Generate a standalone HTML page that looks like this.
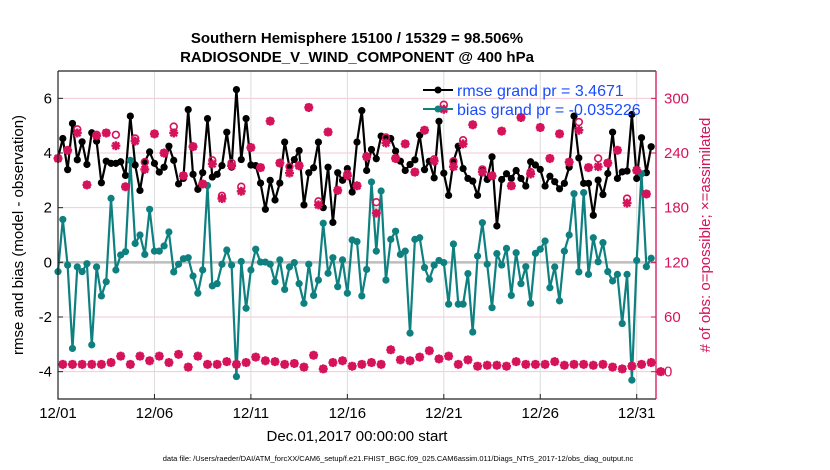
<!DOCTYPE html>
<html><head><meta charset="utf-8"><style>
html,body{margin:0;padding:0;background:#fff;}
svg{display:block;font-family:"Liberation Sans",Arial,sans-serif;}
</style></head><body>
<svg id="chart" width="830" height="470" viewBox="0 0 830 470" xmlns="http://www.w3.org/2000/svg">
<text x="357" y="43" text-anchor="middle" font-size="15" font-weight="bold">Southern Hemisphere 15100 / 15329 = 98.506%</text>
<text x="357" y="62" text-anchor="middle" font-size="15" font-weight="bold">RADIOSONDE_V_WIND_COMPONENT @ 400 hPa</text>
<g id="grid"></g>
<g id="series"></g>
<g id="axes"></g>
<text transform="translate(23,235) rotate(-90)" text-anchor="middle" font-size="15">rmse and bias (model - observation)</text>
<text transform="translate(710,235) rotate(-90)" text-anchor="middle" font-size="15" fill="#d6135a"># of obs: o=possible; ×=assimilated</text>
<text x="357" y="441" text-anchor="middle" font-size="15">Dec.01,2017 00:00:00 start</text>
<text x="398" y="461" text-anchor="middle" font-size="7.5">data file: /Users/raeder/DAI/ATM_forcXX/CAM6_setup/f.e21.FHIST_BGC.f09_025.CAM6assim.011/Diags_NTrS_2017-12/obs_diag_output.nc</text>
<g>
<line x1="423" y1="90" x2="453" y2="90" stroke="#000" stroke-width="2"/><circle cx="438" cy="90" r="3.5" fill="#000"/>
<text x="457" y="96" font-size="16" fill="#1a4cff">rmse grand pr = 3.4671</text>
<line x1="423" y1="109" x2="453" y2="109" stroke="#0f8080" stroke-width="2"/><circle cx="438" cy="109" r="3.5" fill="#0f8080"/>
<text x="457" y="115" font-size="16" fill="#1a4cff">bias grand pr = -0.035226</text>
</g>
</svg>
<script>
const rmse=[3.82,4.53,3.39,5.08,3.75,4.41,3.58,4.74,4.43,2.91,3.70,3.62,3.62,3.68,3.18,5.35,3.56,2.63,3.68,4.04,3.62,3.30,3.48,4.25,3.73,2.87,3.07,5.59,3.22,2.67,3.28,5.26,3.12,3.22,3.54,4.76,3.48,6.32,3.76,5.26,3.56,3.54,2.90,1.94,3.00,2.28,2.90,4.40,3.48,3.76,4.09,2.10,3.28,3.46,4.40,2.00,3.48,1.46,3.28,3.00,3.43,2.57,4.40,5.55,3.36,4.13,3.79,4.62,4.53,4.53,4.07,3.70,3.36,3.58,3.75,4.65,3.39,3.70,3.09,5.16,3.26,2.45,3.70,4.25,3.43,3.07,2.97,2.45,3.36,3.03,3.86,1.33,3.03,3.24,3.07,3.36,3.07,2.79,3.68,3.56,3.40,2.79,3.15,2.95,2.69,2.89,3.48,5.35,3.82,2.89,2.89,1.72,3.01,2.48,3.25,4.76,3.07,3.31,3.34,5.41,3.07,4.56,3.28,4.23];
const bias=[-0.34,1.57,-0.10,-3.15,-0.17,-0.34,-0.05,-3.02,-0.17,-1.23,-0.71,2.34,-0.28,0.27,0.39,3.73,0.69,1.00,0.29,1.94,0.41,0.41,0.60,1.11,-0.35,-0.07,0.13,0.17,-0.50,-1.13,-0.28,2.81,-0.86,-0.78,-0.07,0.45,-0.10,-4.18,0.03,-1.68,-0.28,0.48,0.01,0.01,-0.07,-0.71,0.09,-0.99,-0.17,-0.01,-0.78,-1.50,-0.07,-1.21,-0.65,1.43,-0.40,0.17,-0.89,0.09,-1.13,0.82,0.76,-1.23,-0.26,2.94,0.41,2.61,-0.65,0.84,1.14,0.29,0.41,-2.59,0.84,0.90,-0.19,-0.62,-0.10,0.07,-0.01,-1.53,0.67,-1.53,-1.53,-0.41,-2.55,0.23,1.45,-0.07,-1.66,0.32,-0.10,0.51,-1.21,0.35,-0.78,-0.16,-1.50,0.33,0.48,0.78,-0.93,-0.17,-1.41,0.41,1.00,2.51,-0.35,2.55,-0.44,0.90,0.02,0.72,-0.34,-0.68,-0.44,-2.24,-0.44,-4.31,0.07,3.24,-0.16,0.15];
const assimHigh=[234,243,262,205,259,262,248,203,253,222,261,240,262,215,247,206,228,190,226,198,246,224,275,229,218,226,290,183,263,199,215,204,236,174,251,234,250,219,265,231,288,225,250,271,219,215,264,204,279,217,268,234,261,230,265,224,225,229,243,185,221,195];
const possHigh=[234,243,266,205,260,262,260,203,256,230,261,240,269,215,247,206,232,193,229,203,246,224,275,229,225,226,290,187,263,199,217,204,236,186,257,234,250,219,265,233,293,231,254,271,222,215,264,204,279,219,268,234,261,230,274,224,234,229,243,190,221,195];
const countsLow=[8,8,8,8,8,10,17,8,17,12,17,10,19,5,17,8,8,11,8,10,16,12,11,8,9,5,18,3,10,12,6,8,10,8,24,13,12,16,23,14,17,8,13,6,7,7,6,11,8,8,8,11,7,8,8,7,8,5,3,6,8,10,0];
const xTickLabels=["12/01","12/06","12/11","12/16","12/21","12/26","12/31"];
const xTickDays=[0,5,10,15,20,25,30];
const yLeftTicks=[-4,-2,0,2,4,6];
const yRightTicks=[0,60,120,180,240,300];

const X0=58,X1=656,Y0=71,Y1=399,DAYS=31,YMIN=-5,YMAX=7;
const xs=d=>X0+d/DAYS*(X1-X0);
const yL=v=>Y0+(YMAX-v)/(YMAX-YMIN)*(Y1-Y0);
const yR=c=>yL((c-120)/30);
const NS="http://www.w3.org/2000/svg";
function mk(tag,attrs,parent){const e=document.createElementNS(NS,tag);for(const k in attrs)e.setAttribute(k,attrs[k]);parent.appendChild(e);return e;}
const grid=document.getElementById('grid'),ser=document.getElementById('series'),ax=document.getElementById('axes');
const RED="#d6135a",TEAL="#0f8080";

// grid
yRightTicks.forEach(t=>{const l=mk('line',{x1:X0,x2:X1,y1:yR(t),y2:yR(t),stroke:'#f3c9d8','stroke-width':1},grid);

});
xTickDays.forEach(d=>{const l=mk('line',{x1:xs(d),x2:xs(d),y1:Y0,y2:Y1,stroke:'#dcdcdc','stroke-width':1},grid);

});
const zl=mk('line',{x1:X0,x2:X1,y1:yL(0),y2:yL(0),stroke:'#bdbdbd','stroke-width':2.5},grid);



// lines
function lineSeries(vals,color,name){
  const pts=vals.map((v,i)=>xs(i*0.25).toFixed(1)+','+yL(v).toFixed(1)).join(' ');
  const g=mk('g',{},ser);
  
  
  const p=mk('polyline',{points:pts,fill:'none',stroke:color,'stroke-width':2.2,'stroke-linejoin':'round'},g);
  
  
  vals.forEach((v,i)=>{const c=mk('circle',{cx:xs(i*0.25),cy:yL(v),r:3.6,fill:color},g);
  
  });
}
lineSeries(rmse,'#000','rmse');
lineSeries(bias,TEAL,'bias');

// counts
const cg=mk('g',{},ser);


function star(x,y){
  const s=mk('path',{d:`M${x-4.5},${y}H${x+4.5}M${x},${y-4.5}V${y+4.5}M${x-3.3},${y-3.3}L${x+3.3},${y+3.3}M${x-3.3},${y+3.3}L${x+3.3},${y-3.3}`,stroke:RED,'stroke-width':2.4},cg);
  
  
}
function circ(x,y){
  const c=mk('circle',{cx:x,cy:y,r:3.4,fill:'none',stroke:RED,'stroke-width':1.6},cg);
  
  
}
possHigh.forEach((c,k)=>circ(xs(k*0.5),yR(c)));
assimHigh.forEach((c,k)=>star(xs(k*0.5),yR(c)));
countsLow.forEach((c,k)=>{const x=xs(0.25+k*0.5),y=yR(c);circ(x,y);star(x,y);});

// axes
const fr=mk('path',{d:`M${X0},${Y0}V${Y1}H${X1}M${X0},${Y0}H${X1}`,fill:'none',stroke:'#222','stroke-width':1.2},ax);


const ra=mk('line',{x1:X1,x2:X1,y1:Y0,y2:Y1,stroke:RED,'stroke-width':1.3},ax);


xTickDays.forEach((d,i)=>{
  mk('line',{x1:xs(d),x2:xs(d),y1:Y1,y2:Y1-5,stroke:'#222'},ax);
  const t=mk('text',{x:xs(d),y:Y1+19,'text-anchor':'middle','font-size':15},ax);
  t.textContent=xTickLabels[i];
  
  
});
yLeftTicks.forEach(v=>{
  mk('line',{x1:X0,x2:X0+5,y1:yL(v),y2:yL(v),stroke:'#222'},ax);
  const t=mk('text',{x:X0-6,y:yL(v)+5,'text-anchor':'end','font-size':15},ax);
  t.textContent=v;
  
  
});
yRightTicks.forEach(v=>{
  mk('line',{x1:X1,x2:X1-5,y1:yR(v),y2:yR(v),stroke:RED},ax);
  const t=mk('text',{x:X1+8,y:yR(v)+5,'text-anchor':'start','font-size':15,fill:RED},ax);
  t.textContent=v;
  
  
});
</script>
</body></html>
